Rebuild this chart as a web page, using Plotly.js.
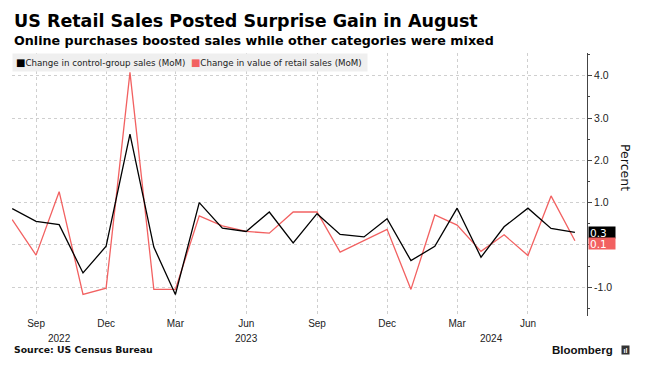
<!DOCTYPE html>
<html>
<head>
<meta charset="utf-8">
<script src="https://cdn.plot.ly/plotly-3.0.1.min.js"></script>
<style>html,body{margin:0;padding:0;background:#fff;}#chart{width:647px;height:377px;}</style>
</head>
<body>
<div id="chart"></div>
<script>
const months = ['2022-08-01','2022-09-01','2022-10-01','2022-11-01','2022-12-01',
  '2023-01-01','2023-02-01','2023-03-01','2023-04-01','2023-05-01','2023-06-01','2023-07-01','2023-08-01',
  '2023-09-01','2023-10-01','2023-11-01','2023-12-01',
  '2024-01-01','2024-02-01','2024-03-01','2024-04-01','2024-05-01','2024-06-01','2024-07-01','2024-08-01'];
const controlGroup = [0.86,0.56,0.48,-0.66,-0.03,2.62,-0.05,-1.17,1.00,0.40,0.32,0.78,0.05,
  0.74,0.25,0.19,0.62,-0.37,-0.03,0.87,-0.29,0.43,0.87,0.39,0.30];
const retailSales = [0.60,-0.24,1.26,-1.17,-1.02,4.08,-1.05,-1.05,0.69,0.45,0.32,0.28,0.78,
  0.78,-0.17,0.11,0.37,-1.05,0.71,0.47,-0.15,0.24,-0.25,1.16,0.10];
const seriesNames = ['Change in control-group sales (MoM)','Change in value of retail sales (MoM)'];
const seriesColors = ['#000000','#f26161'];
const yTickVals = [-1,0,1,2,3,4];
const yTickText = ['-1.0','','1.0','2.0','3.0','4.0'];
const yearLabels = ['2022','2023','2024'];
const yearPositions = ['2022-10-01','2023-06-01','2024-04-15'];

const font = 'Liberation Sans, Arial, sans-serif';
const dv = 'DejaVu Sans, Verdana, sans-serif';

const traces = [
  {x: months, y: retailSales, type:'scatter', mode:'lines', name: seriesNames[1],
   line:{color: seriesColors[1], width:1.3}, showlegend:false, hoverinfo:'skip'},
  {x: months, y: controlGroup, type:'scatter', mode:'lines', name: seriesNames[0],
   line:{color: seriesColors[0], width:1.3}, showlegend:false, hoverinfo:'skip'}
];

const lastC = controlGroup[controlGroup.length-1];
const lastR = retailSales[retailSales.length-1];

const annotations = [
  {xref:'paper', yref:'paper', x:0, y:1, xanchor:'left', yanchor:'top', yshift:44,
   text:'<b>US Retail Sales Posted Surprise Gain in August</b>',
   font:{family:dv, size:17.5, color:'#000'}, showarrow:false},
  {xref:'paper', yref:'paper', x:0, y:1, xanchor:'left', yanchor:'top', yshift:22,
   text:'<b>Online purchases boosted sales while other categories were mixed</b>',
   font:{family:dv, size:12.7, color:'#000'}, showarrow:false},
  {xref:'paper', yref:'paper', x:0, y:1, xanchor:'left', yanchor:'top', align:'left',
   text: '<span style="color:'+seriesColors[0]+';font-size:10px">■</span>' + seriesNames[0] +
         '  <span style="color:'+seriesColors[1]+';font-size:10px">■</span>' + seriesNames[1] + ' ',
   font:{family:dv, size:8.7, color:'#222'}, bgcolor:'#efefef', showarrow:false,
   borderpad:3, yshift:0},
  {xref:'paper', yref:'y', x:1, y:lastC, xanchor:'left', yanchor:'middle',
   text: lastC.toFixed(1), font:{family:dv, size:10.5, color:'#ffffff'}, bgcolor:'#000000',
   showarrow:false, width:24, height:9, borderpad:1, xshift:1, align:'left'},
  {xref:'paper', yref:'y', x:1, y:lastR, xanchor:'left', yanchor:'middle',
   text: lastR.toFixed(1), font:{family:dv, size:10.5, color:'#ffffff'}, bgcolor:seriesColors[1],
   showarrow:false, width:24, height:9, borderpad:1, xshift:1, yshift:-3, align:'left'},
  {xref:'paper', yref:'paper', x:1, y:0.5, xanchor:'left', yanchor:'middle', xshift:29, yshift:17,
   text:'Percent', textangle:90, font:{family:dv, size:12.5, color:'#111'}, showarrow:false},
  {xref:'paper', yref:'paper', x:0, y:0, xanchor:'left', yanchor:'top', yshift:-26,
   text:'<b>Source: US Census Bureau</b>', font:{family:dv, size:9.3, color:'#111'}, showarrow:false},
  {xref:'paper', yref:'paper', x:1, y:0, xanchor:'right', yanchor:'top', yshift:-26, xshift:28,
   text:'<b>Bloomberg</b>', font:{family:font, size:11.5, color:'#111'}, showarrow:false},
  {xref:'paper', yref:'paper', x:1, y:0, xanchor:'left', yanchor:'top', yshift:-29, xshift:34,
   text:'<b>ıl</b>', font:{family:font, size:7, color:'#fff'}, bgcolor:'#333', width:7, height:8,
   borderpad:0, showarrow:false}
];
yearLabels.forEach((t,i)=>{
  annotations.push({xref:'x', yref:'paper', x:yearPositions[i], y:0, xanchor:'center', yanchor:'top',
    yshift:-15, text:t, font:{family:font, size:10, color:'#222'}, showarrow:false});
});

const layout = {
  width:647, height:377,
  margin:{l:12, r:60, t:53, b:61},
  paper_bgcolor:'#fff', plot_bgcolor:'#fff',
  xaxis:{type:'date', range:['2022-07-31 18:00','2024-08-16 17:00'],
    tick0:'2022-09-01', dtick:'M3', tickformat:'%b',
    showgrid:true, gridcolor:'#cfcfcf', griddash:'dot', gridwidth:1,
    showline:false, zeroline:false, ticks:'', ticklen:0,
    tickfont:{family:font, size:10, color:'#222'}, fixedrange:true},
  yaxis:{side:'right', range:[-1.678,4.537], tickmode:'array', tickvals:yTickVals, ticktext:yTickText,
    showgrid:true, gridcolor:'#cfcfcf', griddash:'dot', gridwidth:1,
    showline:true, linecolor:'#444', linewidth:1, zeroline:false,
    ticks:'outside', ticklen:4, tickcolor:'#444', tickwidth:1,
    minor:{dtick:0.5, ticks:'outside', ticklen:2, tickcolor:'#444', showgrid:false},
    tickfont:{family:font, size:10.5, color:'#222'}, fixedrange:true},
  showlegend:false,
  annotations: annotations,
  hovermode:false
};
Plotly.newPlot('chart', traces, layout, {displayModeBar:false, staticPlot:true});
</script>
</body>
</html>
